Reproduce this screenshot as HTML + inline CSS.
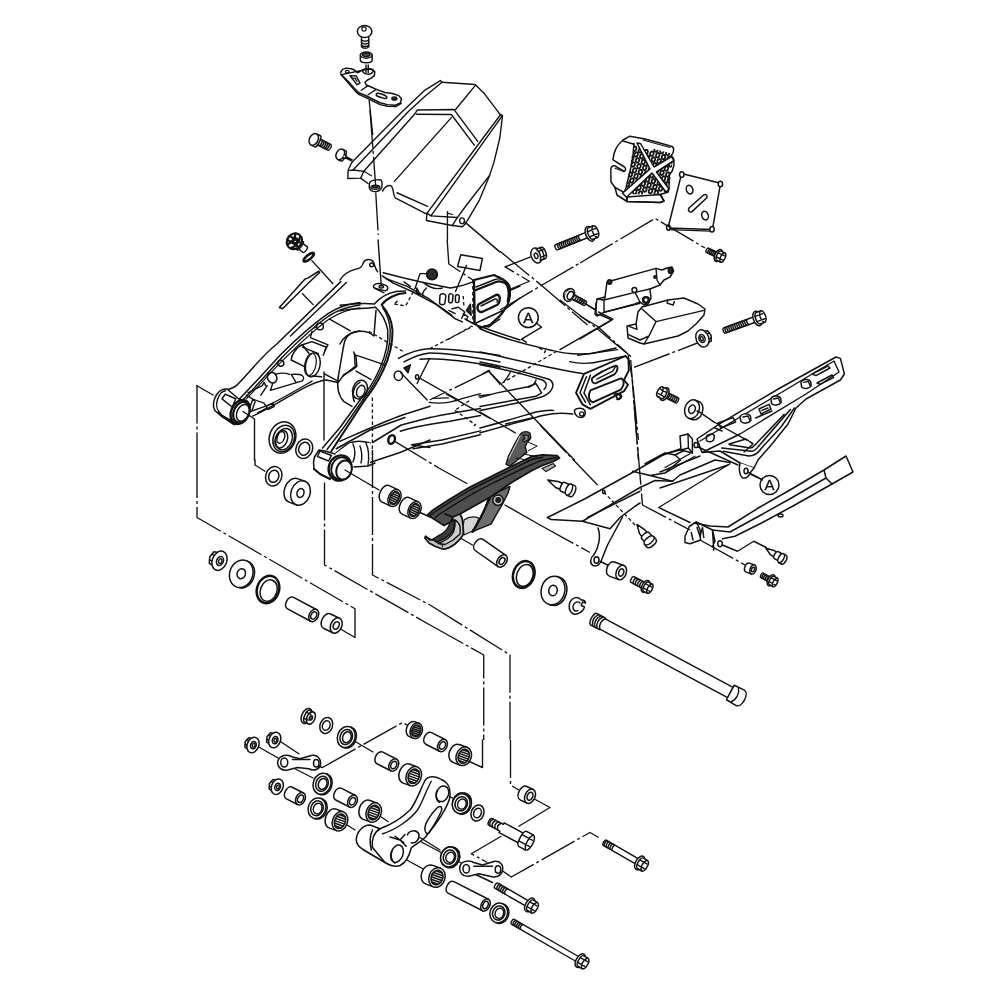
<!DOCTYPE html>
<html><head><meta charset="utf-8"><title>Swingarm</title>
<style>
html,body{margin:0;padding:0;background:#fff}
body{width:1000px;height:1001px;overflow:hidden}
svg{display:block;filter:grayscale(1)}
svg *{vector-effect:non-scaling-stroke}
.g{fill:none;stroke:#111;stroke-width:1.4;stroke-linecap:round;stroke-linejoin:round}
.w{fill:#fff}
.k{fill:#2a2a2a}
.m{fill:#555}
.dd{stroke-dasharray:38 3 3 3;stroke-linecap:butt;stroke-width:1.35}
.ds{stroke-dasharray:3.5 2.5;stroke-linecap:butt;stroke-width:1.3}
.th{stroke-width:1.2}
.hv{stroke-width:1.5}
text{font-family:"Liberation Sans",sans-serif;stroke:#111;stroke-width:0.35;fill:#111}
</style></head><body>
<svg width="1000" height="1001" viewBox="0 0 1000 1001">
<rect x="0" y="0" width="1000" height="1001" fill="#fff" stroke="none"/>
<g class="g" transform="translate(340,70) scale(0.17)">
<!-- left flange -->
<path d="M70,543 L353,257 L500,118 L590,62 L600,72 L500,154 L404,243 L77,588"/>
<path d="M70,543 L48,588 L46,638 L122,636 L140,596 L77,588 L50,592"/>
<path d="M140,596 L441,257 L455,235 L670,232 L810,420"/>
<path d="M450,260 L655,262 L790,442"/>
<path d="M122,636 L165,668"/>
<path class="th" d="M140,596 L185,622"/>
<!-- top face -->
<path d="M600,72 L795,85 L850,140 L945,265"/>
<path d="M795,92 L680,232"/>
<path d="M655,280 L320,655"/>
<!-- right flange -->
<path d="M945,262 L512,842 L508,885 L660,915 L690,868 L740,800 L880,620"/>
<path d="M955,268 L535,858 L690,868"/>
<path d="M512,842 L535,858"/>
<path d="M945,262 L956,268 L940,400 L905,545 L880,620 L820,765 L750,885 L735,905"/>
<path d="M660,915 L720,922 L738,905"/>
<ellipse cx="718" cy="887" rx="14" ry="17"/>
<!-- bottom edge -->
<path d="M250,712 C262,690 285,672 300,682 C318,695 312,740 325,752 L510,848"/>
<path d="M335,722 L515,802"/>
<!-- washer at left bottom -->
<path class="w" d="M172,678 C172,660 185,650 200,648 L235,645 C248,648 250,665 246,690 C240,712 215,718 195,714 C178,710 170,698 172,678 Z"/>
<ellipse cx="208" cy="690" rx="26" ry="12" class="w"/>
<ellipse cx="208" cy="686" rx="17" ry="7" class="m"/>
<!-- dashed at bottom right -->
<path class="dd" d="M632,830 L632,1000"/>
<path class="th" d="M632,842 L662,850"/>
<!-- holeleader -->
<path d="M735,895 L940,1070"/>
</g>
<g class="g" transform="translate(300,10) scale(0.125)">
<!-- bolt -->
<path d="M492,215 L492,295 C505,310 535,310 550,295 L550,215"/>
<path d="M492,240 C505,252 535,252 550,240 M492,262 C505,274 535,274 550,262 M492,283 C505,295 535,295 550,283" class="hv"/>
<ellipse cx="517" cy="172" rx="58" ry="48" class="w hv"/>
<circle cx="512" cy="152" r="17" class="th"/>
<!-- collar -->
<path class="w hv" d="M483,360 L483,400 C483,430 577,430 577,400 L577,360"/>
<ellipse cx="530" cy="360" rx="47" ry="25" class="w hv"/>
<ellipse cx="530" cy="358" rx="31" ry="14" class="m"/>
<path d="M528,440 L528,500 M546,440 L546,500"/>
<!-- bracket -->
<path class="hv" d="M325,500 L340,475 L370,465 L410,470 L435,480 L460,502 L500,480 M560,470 L580,475 L598,495 L595,525 L570,545 L540,560 L520,578 L530,600 L560,612 L610,635 L680,660 L740,668 L790,685 L812,710 L802,745 L760,762 L700,757 L640,742 L580,712 L520,682 L470,662 L440,632 L400,587 L360,547 L330,517 Z"/>
<path d="M500,480 C500,520 570,525 585,490 C580,470 530,462 500,480"/>
<path d="M325,512 L440,647 L470,675 L520,697 L640,757 L700,770 L770,772 L810,747"/>
<ellipse cx="378" cy="493" rx="15" ry="10"/>
<path class="hv" d="M400,525 L450,528 L480,585 L455,597 Z"/>
<path d="M415,545 L440,545 L455,570"/>
<path class="hv" d="M612,668 C625,660 680,680 692,692 C700,705 685,712 670,706 C650,700 615,690 610,682 Z"/>
<ellipse cx="755" cy="708" rx="20" ry="13" class="k"/>
<path d="M490,642 L545,605 M545,678 L610,635"/>
<path class="dd" d="M553,720 L582,1000"/>
</g>
<g class="g" transform="translate(300,110) scale(0.125)">
<g transform="translate(110,235) rotate(27)">
<path class="w hv" d="M0,-50 L35,-50 C55,-50 55,50 35,50 L0,50"/>
<ellipse cx="0" cy="0" rx="34" ry="50" class="w hv"/>
<path d="M45,-26 L140,-26 C155,-26 155,26 140,26 L45,26"/>
<path class="hv" d="M62,-26 C72,-10 72,10 62,26 M78,-26 C88,-10 88,10 78,26 M94,-26 C104,-10 104,10 94,26 M110,-26 C120,-10 120,10 110,26 M126,-26 C136,-10 136,10 126,26"/>
</g>
<g transform="translate(322,355) rotate(27)">
<path class="w hv" d="M0,-45 L28,-45 C48,-45 48,45 28,45 L0,45"/>
<ellipse cx="0" cy="0" rx="32" ry="45" class="w hv"/>
<path class="w" d="M30,-12 L50,-12 L50,12 L30,12"/>
<path d="M50,-5 L105,-5 M50,6 L100,6"/>
</g>
<!-- washer under guard -->
<path class="dd" d="M560,0 L605,600"/>
<path class="dd" d="M606,660 L626,1000"/>
</g>
<g class="g" transform="translate(600,125) scale(0.1)">
<path class="w hv" d="M300,112 L450,140 L600,180 L720,215 C745,230 742,270 712,308 L735,335 L740,400 L722,460 L692,500 L690,640 L680,672 L605,692 L640,760 L600,775 L270,765 L170,700 L150,625 L110,570 L108,450 C108,420 125,405 150,408 L240,465 C262,455 258,430 245,420 L130,348 C135,270 170,200 230,150 Z"/>
<clipPath id="tex"><path d="M340,185 L735,290 L690,650 L600,700 L250,690 Z"/></clipPath>
<g clip-path="url(#tex)">
<ellipse cx="346" cy="237" rx="17" ry="23" transform="rotate(20 346 237)" style="stroke-width:1.8"/>
<ellipse cx="317" cy="337" rx="17" ry="23" transform="rotate(20 317 337)" style="stroke-width:1.8"/>
<ellipse cx="404" cy="254" rx="17" ry="23" transform="rotate(20 404 254)" style="stroke-width:1.8"/>
<ellipse cx="361" cy="295" rx="17" ry="23" transform="rotate(20 361 295)" style="stroke-width:1.8"/>
<ellipse cx="375" cy="354" rx="17" ry="23" transform="rotate(20 375 354)" style="stroke-width:1.8"/>
<ellipse cx="332" cy="395" rx="17" ry="23" transform="rotate(20 332 395)" style="stroke-width:1.8"/>
<ellipse cx="346" cy="454" rx="17" ry="23" transform="rotate(20 346 454)" style="stroke-width:1.8"/>
<ellipse cx="303" cy="495" rx="17" ry="23" transform="rotate(20 303 495)" style="stroke-width:1.8"/>
<ellipse cx="318" cy="554" rx="17" ry="23" transform="rotate(20 318 554)" style="stroke-width:1.8"/>
<ellipse cx="275" cy="595" rx="17" ry="23" transform="rotate(20 275 595)" style="stroke-width:1.8"/>
<ellipse cx="289" cy="654" rx="17" ry="23" transform="rotate(20 289 654)" style="stroke-width:1.8"/>
<ellipse cx="461" cy="270" rx="17" ry="23" transform="rotate(20 461 270)" style="stroke-width:1.8"/>
<ellipse cx="418" cy="312" rx="17" ry="23" transform="rotate(20 418 312)" style="stroke-width:1.8"/>
<ellipse cx="433" cy="370" rx="17" ry="23" transform="rotate(20 433 370)" style="stroke-width:1.8"/>
<ellipse cx="390" cy="412" rx="17" ry="23" transform="rotate(20 390 412)" style="stroke-width:1.8"/>
<ellipse cx="404" cy="470" rx="17" ry="23" transform="rotate(20 404 470)" style="stroke-width:1.8"/>
<ellipse cx="361" cy="512" rx="17" ry="23" transform="rotate(20 361 512)" style="stroke-width:1.8"/>
<ellipse cx="375" cy="570" rx="17" ry="23" transform="rotate(20 375 570)" style="stroke-width:1.8"/>
<ellipse cx="332" cy="612" rx="17" ry="23" transform="rotate(20 332 612)" style="stroke-width:1.8"/>
<ellipse cx="347" cy="670" rx="17" ry="23" transform="rotate(20 347 670)" style="stroke-width:1.8"/>
<ellipse cx="519" cy="287" rx="17" ry="23" transform="rotate(20 519 287)" style="stroke-width:1.8"/>
<ellipse cx="476" cy="328" rx="17" ry="23" transform="rotate(20 476 328)" style="stroke-width:1.8"/>
<ellipse cx="490" cy="387" rx="17" ry="23" transform="rotate(20 490 387)" style="stroke-width:1.8"/>
<ellipse cx="447" cy="428" rx="17" ry="23" transform="rotate(20 447 428)" style="stroke-width:1.8"/>
<ellipse cx="462" cy="487" rx="17" ry="23" transform="rotate(20 462 487)" style="stroke-width:1.8"/>
<ellipse cx="419" cy="528" rx="17" ry="23" transform="rotate(20 419 528)" style="stroke-width:1.8"/>
<ellipse cx="433" cy="587" rx="17" ry="23" transform="rotate(20 433 587)" style="stroke-width:1.8"/>
<ellipse cx="390" cy="628" rx="17" ry="23" transform="rotate(20 390 628)" style="stroke-width:1.8"/>
<ellipse cx="404" cy="687" rx="17" ry="23" transform="rotate(20 404 687)" style="stroke-width:1.8"/>
<ellipse cx="562" cy="245" rx="17" ry="23" transform="rotate(20 562 245)" style="stroke-width:1.8"/>
<ellipse cx="577" cy="303" rx="17" ry="23" transform="rotate(20 577 303)" style="stroke-width:1.8"/>
<ellipse cx="534" cy="345" rx="17" ry="23" transform="rotate(20 534 345)" style="stroke-width:1.8"/>
<ellipse cx="548" cy="403" rx="17" ry="23" transform="rotate(20 548 403)" style="stroke-width:1.8"/>
<ellipse cx="505" cy="445" rx="17" ry="23" transform="rotate(20 505 445)" style="stroke-width:1.8"/>
<ellipse cx="520" cy="503" rx="17" ry="23" transform="rotate(20 520 503)" style="stroke-width:1.8"/>
<ellipse cx="476" cy="545" rx="17" ry="23" transform="rotate(20 476 545)" style="stroke-width:1.8"/>
<ellipse cx="491" cy="603" rx="17" ry="23" transform="rotate(20 491 603)" style="stroke-width:1.8"/>
<ellipse cx="448" cy="645" rx="17" ry="23" transform="rotate(20 448 645)" style="stroke-width:1.8"/>
<ellipse cx="620" cy="262" rx="17" ry="23" transform="rotate(20 620 262)" style="stroke-width:1.8"/>
<ellipse cx="635" cy="320" rx="17" ry="23" transform="rotate(20 635 320)" style="stroke-width:1.8"/>
<ellipse cx="591" cy="362" rx="17" ry="23" transform="rotate(20 591 362)" style="stroke-width:1.8"/>
<ellipse cx="606" cy="420" rx="17" ry="23" transform="rotate(20 606 420)" style="stroke-width:1.8"/>
<ellipse cx="563" cy="462" rx="17" ry="23" transform="rotate(20 563 462)" style="stroke-width:1.8"/>
<ellipse cx="577" cy="520" rx="17" ry="23" transform="rotate(20 577 520)" style="stroke-width:1.8"/>
<ellipse cx="534" cy="562" rx="17" ry="23" transform="rotate(20 534 562)" style="stroke-width:1.8"/>
<ellipse cx="549" cy="620" rx="17" ry="23" transform="rotate(20 549 620)" style="stroke-width:1.8"/>
<ellipse cx="505" cy="661" rx="17" ry="23" transform="rotate(20 505 661)" style="stroke-width:1.8"/>
<ellipse cx="678" cy="278" rx="17" ry="23" transform="rotate(20 678 278)" style="stroke-width:1.8"/>
<ellipse cx="692" cy="336" rx="17" ry="23" transform="rotate(20 692 336)" style="stroke-width:1.8"/>
<ellipse cx="649" cy="378" rx="17" ry="23" transform="rotate(20 649 378)" style="stroke-width:1.8"/>
<ellipse cx="664" cy="436" rx="17" ry="23" transform="rotate(20 664 436)" style="stroke-width:1.8"/>
<ellipse cx="620" cy="478" rx="17" ry="23" transform="rotate(20 620 478)" style="stroke-width:1.8"/>
<ellipse cx="635" cy="536" rx="17" ry="23" transform="rotate(20 635 536)" style="stroke-width:1.8"/>
<ellipse cx="592" cy="578" rx="17" ry="23" transform="rotate(20 592 578)" style="stroke-width:1.8"/>
<ellipse cx="606" cy="636" rx="17" ry="23" transform="rotate(20 606 636)" style="stroke-width:1.8"/>
<ellipse cx="563" cy="678" rx="17" ry="23" transform="rotate(20 563 678)" style="stroke-width:1.8"/>
<ellipse cx="707" cy="395" rx="17" ry="23" transform="rotate(20 707 395)" style="stroke-width:1.8"/>
<ellipse cx="678" cy="495" rx="17" ry="23" transform="rotate(20 678 495)" style="stroke-width:1.8"/>
<ellipse cx="693" cy="553" rx="17" ry="23" transform="rotate(20 693 553)" style="stroke-width:1.8"/>
<ellipse cx="649" cy="595" rx="17" ry="23" transform="rotate(20 649 595)" style="stroke-width:1.8"/>
<ellipse cx="664" cy="653" rx="17" ry="23" transform="rotate(20 664 653)" style="stroke-width:1.8"/>
</g>
<path class="hv" d="M340,185 L330,300 L310,420 L262,620 L240,685"/>
<path class="hv" d="M230,160 L340,192"/>
<path class="th" d="M150,432 L232,462"/>
<path class="hv" d="M150,625 L235,672 L270,720 L270,765"/>
<path class="w hv" d="M370,180 L405,185 L540,420 L715,315 L740,355 L565,470 L690,640 L660,672 L520,480 L265,722 L225,682 L500,440 Z"/>
<path class="w hv" d="M270,720 L600,695 L640,760 L600,775 L270,765 Z" style="fill:none"/>
<path class="th" d="M430,150 L700,225"/>
</g>
<g class="g" transform="translate(580,120) scale(0.2)">
<path class="hv" d="M508,268 L703,316 L662,548 L440,540 Z"/>
<path class="th" d="M445,548 L655,556"/>
<ellipse cx="509" cy="273" rx="11" ry="14" class="w hv"/>
<ellipse cx="702" cy="320" rx="11" ry="14" class="w hv"/>
<ellipse cx="660" cy="546" rx="11" ry="14" class="w hv"/>
<ellipse cx="442" cy="538" rx="9" ry="13" class="w hv"/>
<ellipse cx="548" cy="348" rx="16" ry="22" transform="rotate(-20 548 348)" class="hv"/>
<ellipse cx="625" cy="478" rx="16" ry="22" transform="rotate(-20 625 478)" class="hv"/>
<path class="hv" d="M545,440 L618,375 C630,368 640,378 633,390 L560,458 C548,465 538,452 545,440 Z"/>
<!-- leader line -->
<path class="dd" d="M0,715 L375,492 L625,640"/>
<!-- small flange bolt -->
<g transform="translate(702,682) rotate(205)"><path d="M16,-12 L72,-12 C79.2,-12 79.2,12 72,12 L16,12"/><path class="hv" d="M26.5,-12 C32.5,-6 32.5,6 26.5,12 M35.5,-12 C41.5,-6 41.5,6 35.5,12 M44.5,-12 C50.5,-6 50.5,6 44.5,12 M53.5,-12 C59.5,-6 59.5,6 53.5,12 M62.5,-12 C68.5,-6 68.5,6 62.5,12 "/><ellipse class="w hv" cx="11.2" cy="0" rx="17.6" ry="32"/><path class="w hv" d="M8,-25.6 L-11.2,-25.6 C-28.8,-25.6 -28.8,25.6 -11.2,25.6 L8,25.6 C22.4,25.6 22.4,-25.6 8,-25.6 Z"/><path d="M-17.6,-11.5 L17.6,-11.5 M-17.6,11.5 L17.6,11.5 M-11.2,-25.6 C1.6,-15.4 1.6,15.4 -11.2,25.6"/></g>
</g>
<g class="g" transform="translate(580,240) scale(0.2)">
<!-- leader lines -->
<path class="dd" d="M0,380 L85,430 L240,570 L262,700 L292,1000"/>
<path class="dd" d="M270,637 L600,510"/>
<path d="M80,365 L160,400 L0,495"/>
<path class="dd" d="M0,300 L75,350"/>
<!-- adjuster bracket -->
<path class="w hv" d="M135,210 L380,142 L410,150 L435,140 L460,135 L468,155 L450,185 L420,200 L400,225 L350,245 L355,290 L340,320 L320,325 L300,310 L275,320 L120,362 L85,380 L75,370 L85,295 L125,285 Z"/>
<path d="M125,285 L120,300 L275,262 L350,245 M85,295 L120,300 L120,360 M380,142 L385,200 L400,225 M275,262 L300,310"/>
<circle cx="148" cy="210" r="11" class="k"/>
<circle cx="375" cy="185" r="6" class="k"/>
<ellipse cx="452" cy="152" rx="11" ry="14" class="k"/>
<circle cx="272" cy="250" r="12" class="w hv"/>
<circle cx="330" cy="300" r="17" class="k"/>
<circle cx="330" cy="300" r="7" class="w" stroke="none"/>
<!-- guide block -->
<path class="w hv" d="M235,430 L280,420 L290,360 L310,335 L440,300 L520,290 L590,320 L625,345 L620,375 L580,420 L540,455 L490,480 L320,520 L300,515 L240,490 Z"/>
<path d="M310,345 L380,408 L620,352 M380,408 L345,480 L320,520 M245,432 L285,447 L280,420 M240,472 L300,500 L345,480 M440,300 L435,315 L465,326 L472,308"/>
<!-- flange nut + long bolt -->
<g transform="translate(612,492) rotate(160)"><path class="w hv" d="M-4.4,-34.3 L-37.4,-27.3 L-46.2,0 L-37.4,27.3 L-4.4,34.3 Z"/><path d="M-41.8,-13.2 L-4.4,-15.8 M-41.8,13.2 L-4.4,15.8"/><ellipse class="w hv" cx="0" cy="0" rx="31.7" ry="44"/><ellipse class="hv" cx="2.2" cy="0" rx="15" ry="20.2"/><ellipse cx="3.5" cy="0" rx="7" ry="10.6"/></g>
<g transform="translate(900,388) rotate(160)"><path d="M19,-14 L189,-14 C197.4,-14 197.4,14 189,14 L19,14"/><path class="hv" d="M64.2,-14 C71.2,-7 71.2,7 64.2,14 M74.8,-14 C81.8,-7 81.8,7 74.8,14 M85.2,-14 C92.2,-7 92.2,7 85.2,14 M95.8,-14 C102.8,-7 102.8,7 95.8,14 M106.2,-14 C113.2,-7 113.2,7 106.2,14 M116.8,-14 C123.8,-7 123.8,7 116.8,14 M127.2,-14 C134.2,-7 134.2,7 127.2,14 M137.8,-14 C144.8,-7 144.8,7 137.8,14 M148.2,-14 C155.2,-7 155.2,7 148.2,14 M158.8,-14 C165.8,-7 165.8,7 158.8,14 M169.2,-14 C176.2,-7 176.2,7 169.2,14 M179.8,-14 C186.8,-7 186.8,7 179.8,14 "/><ellipse class="w hv" cx="13.3" cy="0" rx="20.9" ry="38"/><path class="w hv" d="M9.5,-30.4 L-13.3,-30.4 C-34.2,-30.4 -34.2,30.4 -13.3,30.4 L9.5,30.4 C26.6,30.4 26.6,-30.4 9.5,-30.4 Z"/><path d="M-20.9,-13.7 L20.9,-13.7 M-20.9,13.7 L20.9,13.7 M-13.3,-30.4 C1.9,-18.2 1.9,18.2 -13.3,30.4"/></g>
<!-- lower bolt + washer -->
<g transform="translate(412,765) rotate(27)"><path d="M17,-14 L82,-14 C90.4,-14 90.4,14 82,14 L17,14"/><path class="hv" d="M32.2,-14 C39.2,-7 39.2,7 32.2,14 M42.8,-14 C49.8,-7 49.8,7 42.8,14 M53.2,-14 C60.2,-7 60.2,7 53.2,14 M63.8,-14 C70.8,-7 70.8,7 63.8,14 M74.2,-14 C81.2,-7 81.2,7 74.2,14 "/><ellipse class="w hv" cx="11.9" cy="0" rx="18.7" ry="34"/><path class="w hv" d="M8.5,-27.2 L-11.9,-27.2 C-30.6,-27.2 -30.6,27.2 -11.9,27.2 L8.5,27.2 C23.8,27.2 23.8,-27.2 8.5,-27.2 Z"/><path d="M-18.7,-12.2 L18.7,-12.2 M-18.7,12.2 L18.7,12.2 M-11.9,-27.2 C1.7,-16.3 1.7,16.3 -11.9,27.2"/></g>
<g transform="translate(560,846) rotate(20)"><path class="w hv" d="M0,-48 L18,-48 C65.9,-48 65.9,48 18,48 L0,48"/><ellipse class="w hv" cx="0" cy="0" rx="36" ry="48"/><ellipse class="w hv" cx="0" cy="0" rx="16.2" ry="21.6"/></g>
<path d="M585,855 L600,862 M600,862 L672,912" />
</g>
<g class="g" transform="translate(200,280) scale(0.16)">
<!-- outer top edge -->
<path class="hv" d="M160,688 C190,680 210,676 225,662 C300,590 380,480 480,400 L880,10"/>
<path d="M565,350 L915,15"/>
<!-- inner rim bold arch -->
<path class="hv" d="M230,760 C300,690 400,580 500,470 C600,370 700,280 800,210 C860,170 930,148 1000,140"/>
<path class="hv" d="M242,776 C320,700 410,595 512,484 C610,385 705,295 805,225 C865,188 930,165 1000,157"/>
<path class="th" d="M290,742 C350,680 430,590 525,495 C620,400 715,310 810,242 C870,205 930,182 1000,174"/>
<!-- lower edge -->
<path class="hv" d="M330,850 C420,810 520,745 640,680 C700,648 740,628 790,625 L860,640"/>
<path d="M300,828 L420,785 C500,750 600,690 700,632"/>
<!-- pivot left -->

<!-- bosses -->
<circle cx="750" cy="290" r="21" class="hv"/>
<path d="M735,275 L715,300 M700,320 L690,360 L800,405 L780,440"/>
<circle cx="505" cy="520" r="19" class="hv"/>
<path class="hv" d="M425,590 C440,570 470,575 478,600 C488,630 465,650 445,642 C425,635 415,610 425,590 Z"/>
<path d="M470,590 C500,580 540,582 560,590 M455,645 L440,690 L640,630 C660,600 640,585 570,590 L600,640"/>
<!-- big cylinder -->
<ellipse cx="705" cy="530" rx="45" ry="76" transform="rotate(12 705 530)" class="hv"/>
<ellipse cx="690" cy="528" rx="35" ry="70" transform="rotate(12 690 528)" class="th"/>
<path class="hv" d="M680,458 L640,405 L700,385 L790,420 L770,470 M640,405 C600,420 570,470 570,500 L660,545 M700,600 L760,605"/>
<path d="M640,420 L740,460"/>
<!-- small features near pivot -->
<path d="M290,720 L330,745 L310,800 M330,745 L400,770 L420,800 L360,830 M345,760 L325,815 M410,790 L455,770 L465,790 L425,810 M300,705 L390,660 L400,640 L410,660 M380,720 L420,660"/>
<!-- right region: inner wall -->
<path class="hv" d="M1000,318 C950,320 920,340 905,380 C890,440 880,520 865,600 C855,660 860,720 900,760 L950,790"/>
<path d="M810,245 L940,318"/>
<path class="hv" d="M960,450 L975,480 L980,540 L940,570 L900,590 L865,640 M1000,640 C960,660 945,720 965,760"/>
<!-- strip top-left -->

<!-- leader lines -->
<path d="M775,575 L775,1000 M775,585 L862,632"/>
</g>
<g class="g" transform="translate(180,360) scale(0.1)">
<path class="w hv" d="M470,290 C420,285 370,320 345,390 C325,450 335,500 370,525 L420,565 L545,645 L640,560 L600,400 Z"/>
<path d="M455,308 C420,312 392,342 375,395 C360,440 366,490 388,512"/>
<path class="hv" d="M420,388 L452,342 L558,388 L522,470 Z"/>
<path style="stroke-width:2.2" d="M385,520 L420,562 L540,642"/>
<path d="M400,540 L520,612"/>
<ellipse cx="602" cy="520" rx="90" ry="125" transform="rotate(25 602 520)" class="w" style="stroke-width:2.4"/>
<ellipse cx="612" cy="522" rx="74" ry="108" transform="rotate(25 612 522)" class="w" style="stroke-width:2.2"/>
<ellipse cx="628" cy="528" rx="58" ry="88" transform="rotate(25 628 528)" class="w hv"/>
<path d="M630,515 L745,590 L745,1000"/>
<path d="M165,255 L330,350"/>
<path class="dd" d="M170,255 L170,1000"/>
</g>
<g class="g" transform="translate(340,240) scale(0.16)">
<!-- top outline -->
<path class="hv" d="M0,250 C20,215 50,195 100,182 C130,178 140,165 148,138 C160,118 195,115 210,140 C218,160 222,185 235,198"/>
<circle cx="198" cy="155" r="12" class="hv"/>
<path class="hv" d="M270,205 L400,238 L520,265 L690,300 C750,290 800,275 830,262 L960,225 L1000,235"/>
<path class="hv" d="M265,225 L330,268 L450,322 L600,402 L720,492 L765,512"/>
<path d="M285,240 L420,290 L560,370 L700,470"/>
<path d="M520,265 C560,300 600,310 640,300 M540,300 C520,320 510,340 520,350 M400,262 L440,290 M480,300 L500,340 L478,332 Z"/>
<!-- tab -->
<path class="hv" d="M215,280 C225,268 260,270 290,285 C305,295 300,312 285,318 L225,305 C205,298 205,288 215,280 Z"/>
<path d="M215,300 L275,330"/>
<ellipse cx="258" cy="292" rx="14" ry="8"/>
<path d="M238,0 L258,288"/>
<!-- bold arch -->
<path class="hv" d="M0,408 C80,398 160,395 215,400 C240,370 290,335 350,322 L410,318"/>
<path class="hv" d="M0,442 C80,432 150,428 222,420 C255,450 285,500 298,560 C305,640 285,720 250,800 C220,870 170,950 125,1000"/>
<path style="stroke-width:2" d="M410,332 C350,335 290,365 260,405 C300,450 325,510 328,565 C330,650 310,730 270,815 C240,880 195,950 155,1000"/>
<path d="M268,425 C298,465 310,512 314,565 C316,650 297,728 258,811 C228,877 183,950 142,1000"/>
<!-- right arm top edges -->
<path class="hv" d="M365,740 C420,710 480,685 550,680 C650,678 800,690 1000,722"/>
<path class="hv" d="M400,762 C440,740 500,712 560,706 C680,705 850,735 1000,762"/>
<path d="M500,745 C600,735 800,760 1000,795"/>
<!-- hidden dashed -->
<path class="ds" d="M180,570 L400,700 M560,680 L830,540 M340,400 L410,412 L470,300 M830,250 L830,520 M345,395 L360,380 M770,350 L775,420"/>
<!-- dark nut -->
<circle cx="575" cy="215" r="34" class="k"/>
<path d="M470,300 L500,210 L545,210"/>
<!-- label box -->
<path class="hv" d="M755,92 L890,115 L875,190 L735,165 Z"/>
<path d="M790,160 L722,322"/>
<path class="dd" d="M670,0 L680,150 L830,250"/>
<!-- threaded piece -->
<path class="hv" d="M625,345 C630,330 660,335 662,350 L655,395 C650,410 620,405 622,390 Z M680,345 C685,332 705,335 707,348 L702,385 C698,398 678,394 679,382 Z M722,348 C727,338 745,341 746,352 L742,385 C738,395 720,392 721,382 Z"/>
<path d="M700,430 L740,420 L780,450 L760,490 M680,440 L720,460 M770,460 L800,480 L790,500"/>
<path class="k" d="M790,440 L815,400 L820,470 Z"/>
<!-- adjuster housing right -->
<!-- inner boss lower-left -->
<path class="hv" d="M0,650 C20,610 60,580 110,572 C150,568 190,580 212,600 L225,440"/>
<path d="M90,710 L95,790 L20,850 M100,720 L285,782 M100,820 L195,872"/>
<ellipse cx="125" cy="935" rx="45" ry="60" transform="rotate(20 125 935)" class="hv"/>
<ellipse cx="130" cy="945" rx="25" ry="38" transform="rotate(20 130 945)"/>
<!-- holes on right arm -->
<ellipse cx="365" cy="848" rx="26" ry="30" class="hv"/>
<path class="k" d="M400,800 L440,780 L425,830 Z"/>
<ellipse cx="482" cy="856" rx="10" ry="14" class="hv"/>
<path d="M380,830 L545,1000 M490,858 L740,1000"/>
<path class="dd" d="M560,740 L480,900 M930,820 L560,1000"/>
<path d="M930,820 L1000,900"/>
</g>
<g class="g" transform="translate(420,240) scale(0.1)">
<path class="w" style="stroke-width:2" d="M540,400 L740,350 L800,380 C850,400 890,440 900,480 L900,560 C895,620 850,700 800,760 L700,850 L600,880 L545,830 Z"/>
<path style="stroke-width:2.2" d="M540,400 L545,830"/>
<path style="stroke-width:2.4" d="M560,500 L760,420 C800,405 850,420 870,450 C890,490 890,560 878,610"/>
<path d="M560,470 L750,395 C800,380 850,400 880,440"/>
<path style="stroke-width:2.4" d="M590,640 L760,550 C790,540 805,570 795,610 C790,635 780,645 770,650 L620,720 C590,725 570,700 575,670 C578,655 582,645 590,640 Z"/>
<path d="M610,660 L750,590 C770,585 778,600 770,620"/>
<path class="hv" d="M560,830 L840,700 L1000,580 M600,880 L700,850 L830,720 M910,500 L1000,460"/>
<path d="M640,860 L690,870 L740,830 L800,790"/>
<path class="ds" d="M520,860 L270,1000"/>
<path class="hv" d="M450,790 L540,840 L700,900 L1000,1000"/>
</g>
<g class="g" transform="translate(480,300) scale(0.16)">
<circle cx="302" cy="110" r="62" class="hv"/>
<text x="302" y="143" font-size="94" text-anchor="middle">A</text>
<path d="M355,145 L385,170 L260,245 L290,265"/>
<path class="dd" d="M500,0 L720,170 L940,350 L990,1000"/>
<path d="M500,310 L830,120 L740,75 M780,75 L1000,20"/>
<path class="hv" d="M725,20 L725,85 L740,95"/>
<!-- arm top edge -->
<path class="hv" d="M0,180 C100,225 250,270 450,315 C520,335 600,342 700,335 L850,300"/>
<path d="M610,345 L860,310"/>
<path class="hv" d="M0,325 C150,355 350,410 640,460"/>
<path class="hv" d="M0,388 C150,415 300,455 430,495 C460,510 465,540 440,570 C420,595 390,608 350,615 L250,640 L0,690"/>
<path d="M0,405 C150,432 280,465 390,500 C420,515 420,540 400,560"/>
<path class="hv" d="M0,610 L100,582 L300,542 L350,522 L385,580 L350,602 L0,665"/>
<path d="M20,460 L60,440 M150,510 C170,490 180,470 190,450 M300,545 C330,540 345,520 350,500"/>
<path class="ds" d="M370,300 L410,320 L400,332 M480,320 L120,530"/>
<!-- lower edges -->
<path class="hv" d="M0,830 C150,790 300,745 400,720 C450,708 520,705 580,712"/>
<path class="hv" d="M0,800 C150,760 280,720 350,700 C400,690 430,688 460,690"/>
<path d="M160,775 L330,735"/>
<!-- end cap -->
<path d="M560,385 C620,400 700,398 770,380 L910,350"/>
<path style="stroke-width:1.9" d="M650,462 L910,350 L928,372 L930,440 L900,500 L925,530 L900,570 L690,680 L640,652 L600,580 Z"/>
<path class="hv" d="M665,480 L625,580 L660,640 M690,470 L650,580 L690,655"/>
<path style="stroke-width:1.9" d="M700,490 C720,470 800,425 850,410 C865,415 862,445 840,465 L725,520 C705,525 695,505 700,490 Z"/>
<path d="M730,495 L830,445 L845,420"/>
<path style="stroke-width:1.9" d="M690,565 L880,490 C905,500 905,530 880,560 L705,640 C680,630 672,595 690,565 Z"/>
<path class="hv" d="M590,690 C600,675 640,670 655,690 C665,715 650,735 630,735 C610,735 590,715 590,690 Z"/>
<circle cx="636" cy="712" r="13"/>
<path class="hv" d="M840,590 C850,580 880,582 885,600 C885,618 870,625 855,620"/>
<circle cx="865" cy="603" r="12"/>
<!-- leader lines -->
<path d="M50,440 L590,1000 M0,700 L220,830"/>
</g>
<g class="g" transform="translate(540,400) scale(0.25)">
<!-- sheet -->
<path class="hv" d="M30,470 L180,395 L370,290 L440,250 L500,215 L560,200"/>
<path class="hv" d="M30,470 L45,478 L170,485 L280,515 L320,470 L380,425 L400,412"/>
<path class="hv" d="M170,485 L400,350 L460,322 L530,325 L560,300 L700,240 L760,250"/>
<path d="M475,430 L760,255 M475,430 L600,490 M190,470 L400,365"/>
<path class="hv" d="M420,255 L500,212 L540,220 L562,240 L500,292 L440,302 L370,285 M440,302 L530,325"/>
<path d="M500,292 L620,225 M540,220 L600,190 M500,270 L600,215"/>
<!-- hanging tab -->
<path class="hv" d="M232,512 C245,545 235,590 215,620 C200,632 198,652 212,662 C228,668 245,655 248,635 L270,580 L330,468"/>
<ellipse cx="226" cy="640" rx="10" ry="13" class="hv"/>
<ellipse cx="255" cy="368" rx="5" ry="7"/>
<!-- leader lines -->
<path class="dd" d="M0,100 L230,340"/>
<path class="ds" d="M255,368 L380,500"/>
<path class="dd" d="M375,0 L410,420 L600,520"/>
<path class="dd" d="M0,500 L200,610"/>
<path d="M240,645 L280,665"/>
<path class="dd" d="M640,560 L820,660"/>
<path d="M730,580 L790,605 L855,565 L905,590"/>
<!-- lower rail right -->
<path class="hv" d="M616,492 L680,504 L752,508 L880,428 L1000,360 L1136,280 L1224,224 L1252,288 L1168,336 L1144,312 L1136,280"/>
<path class="hv" d="M1144,312 L1000,395 L880,462 L760,528 L690,520"/>
<path class="hv" d="M1168,336 L1010,425 L890,490 L780,545 L730,555"/>
<ellipse cx="962" cy="462" rx="10" ry="6"/>
<!-- end bracket -->
<path class="hv" d="M580,545 L598,505 L625,488 L640,518 L642,560 L600,575 L580,570 Z"/>
<path class="hv" d="M625,488 L690,520 L700,565 L690,585 M605,530 L612,560 M628,510 L640,545 L650,510 L655,550 M690,520 L695,600"/>
<ellipse cx="720" cy="575" rx="9" ry="12" class="hv"/>
<!-- upper rail end block & washer handled elsewhere -->
<!-- push rivets -->
<g transform="translate(100,350) rotate(22)">
<path class="w hv" d="M-75,-2 L-35,-12 L-10,-12 L-10,14 L-35,14 Z"/>
<path class="w hv" d="M-10,-18 C-20,-18 -20,20 -10,20 L12,20 L12,-18 Z"/>
<g transform="translate(18,2) rotate(0)"><path class="w hv" d="M0,-24 L14,-24 C30,-24 30,24 14,24 L0,24"/><ellipse class="w hv" cx="0" cy="0" rx="12" ry="24"/></g>
</g>
<g transform="translate(425,545) rotate(50)">
<path class="w hv" d="M-60,-2 L-25,-12 L-5,-12 L-5,14 L-25,14 Z"/>
<path class="w hv" d="M-5,-18 C-15,-18 -15,20 -5,20 L15,20 L15,-18 Z"/>
<g transform="translate(20,2) rotate(0)"><path class="w hv" d="M0,-24 L14,-24 C30,-24 30,24 14,24 L0,24"/><ellipse class="w hv" cx="0" cy="0" rx="12" ry="24"/></g>
</g>
<g transform="translate(950,622) rotate(30)">
<path class="w hv" d="M-55,-2 L-25,-10 L-5,-10 L-5,12 L-25,12 Z"/>
<path class="w hv" d="M-5,-15 C-15,-15 -15,17 -5,17 L12,17 L12,-15 Z"/>
<g transform="translate(18,2) rotate(0)"><path class="w hv" d="M0,-20 L12,-20 C25.3,-20 25.3,20 12,20 L0,20"/><ellipse class="w hv" cx="0" cy="0" rx="10" ry="20"/></g>
</g>
<!-- collar + bolt -->
<g transform="translate(325,690) rotate(200)">
<g transform="translate(0,0) rotate(0)"><path class="w hv" d="M0,-30 L40,-30 C66.6,-30 66.6,30 40,30 L0,30"/><ellipse class="w hv" cx="0" cy="0" rx="20" ry="30"/><ellipse class="w hv" cx="0" cy="0" rx="10" ry="15"/></g>
</g>
<g transform="translate(430,750) rotate(208)"><path d="M13,-13 L68,-13 C75.8,-13 75.8,13 68,13 L13,13"/><path class="hv" d="M27.9,-13 C34.4,-6.5 34.4,6.5 27.9,13 M37.6,-13 C44.1,-6.5 44.1,6.5 37.6,13 M47.4,-13 C53.9,-6.5 53.9,6.5 47.4,13 M57.1,-13 C63.6,-6.5 63.6,6.5 57.1,13 "/><ellipse class="w hv" cx="9.1" cy="0" rx="14.3" ry="26"/><path class="w hv" d="M6.5,-20.8 L-9.1,-20.8 C-23.4,-20.8 -23.4,20.8 -9.1,20.8 L6.5,20.8 C18.2,20.8 18.2,-20.8 6.5,-20.8 Z"/><path d="M-14.3,-9.4 L14.3,-9.4 M-14.3,9.4 L14.3,9.4 M-9.1,-20.8 C1.3,-12.5 1.3,12.5 -9.1,20.8"/></g>
<g transform="translate(852,678) rotate(200)">
<g transform="translate(0,0) rotate(0)"><path class="w hv" d="M0,-19 L22,-19 C38,-19 38,19 22,19 L0,19"/><ellipse class="w hv" cx="0" cy="0" rx="12" ry="19"/><ellipse class="w hv" cx="0" cy="0" rx="6" ry="9.5"/></g>
</g>
<g transform="translate(932,725) rotate(208)"><path d="M12,-10 L50,-10 C56,-10 56,10 50,10 L12,10"/><path class="hv" d="M21.8,-10 C26.8,-5 26.8,5 21.8,10 M29.2,-10 C34.2,-5 34.2,5 29.2,10 M36.8,-10 C41.8,-5 41.8,5 36.8,10 M44.2,-10 C49.2,-5 49.2,5 44.2,10 "/><ellipse class="w hv" cx="8.4" cy="0" rx="13.2" ry="24"/><path class="w hv" d="M6,-19.2 L-8.4,-19.2 C-21.6,-19.2 -21.6,19.2 -8.4,19.2 L6,19.2 C16.8,19.2 16.8,-19.2 6,-19.2 Z"/><path d="M-13.2,-8.6 L13.2,-8.6 M-13.2,8.6 L13.2,8.6 M-8.4,-19.2 C1.2,-11.5 1.2,11.5 -8.4,19.2"/></g>
<!-- big washer -->
<g transform="translate(52,762) rotate(15)"><path class="w hv" d="M0,-58 L8,-58 C70.5,-58 70.5,58 8,58 L0,58"/><ellipse class="w hv" cx="0" cy="0" rx="47" ry="58"/><ellipse class="w hv" cx="0" cy="0" rx="16.9" ry="20.9"/></g>
<!-- circlip -->
<path class="hv" d="M165,800 C150,782 125,790 118,815 C112,845 130,862 150,855 C165,850 175,838 178,828 L165,822 L170,808 L182,812 C182,805 175,798 165,800 Z"/>
<path d="M160,812 C150,802 135,810 132,825 C130,840 142,848 152,842"/>
<!-- axle -->
<g transform="translate(215,877) rotate(28.2)">
<path class="w hv" d="M0,-26 L40,-26 L40,-23 L620,-23 L620,23 L40,23 L40,26 L0,26 C-14,26 -14,-26 0,-26 Z"/>
<path class="hv" d="M8,-24 C-4,-10 -4,10 8,24 M18,-24 C6,-10 6,10 18,24 M28,-24 C16,-10 16,10 28,24 M40,-24 C28,-10 28,10 40,24"/>
<path class="w hv" d="M620,-33 L665,-35 C690,-33 690,33 665,35 L620,33 Z"/>
<path d="M640,-31 C655,-15 655,15 640,31"/>
</g>
<!-- seal ring -->
<g transform="translate(-65,698) rotate(20)">
<ellipse cx="0" cy="0" rx="42" ry="55" class="w" style="stroke-width:2.4"/>
<ellipse cx="5" cy="2" rx="32" ry="45" class="hv"/>
<path d="M-38,22 C-28,52 0,62 22,48"/>
</g>
<!-- circle A -->
<circle cx="918" cy="340" r="38" class="w hv"/>
<text x="918" y="361" font-size="60" text-anchor="middle">A</text>
<path d="M828,290 L888,318"/>
</g>
<g class="g" transform="translate(660,340) scale(0.2)">
<!-- rail -->
<path class="w hv" d="M185,495 L300,418 L600,240 L880,85 L902,92 L922,170 L902,200 L730,295 L680,340 L640,420 L560,520 L490,600 L470,640 L440,630 L400,615 L300,555 L210,562 Z"/>
<path d="M200,505 L870,105 L895,160 M895,160 L730,270 L400,470 L215,560"/>
<path class="hv" d="M672,340 L604,436 L508,540 C495,560 470,580 444,580 L316,556 M652,348 L492,532 C482,545 470,555 460,556 L308,540 M620,372 L476,524 C468,534 460,540 452,540 L348,524"/>
<path d="M345,520 L430,495 L465,520 L420,560"/>
<!-- features along rail -->
<path class="hv" d="M290,415 L365,388 L378,410 L305,440 Z M275,440 L310,455"/>
<path class="w hv" d="M400,385 C405,368 440,362 452,380 L455,402 C445,418 415,420 405,408 Z"/>
<path d="M415,385 L440,380 L448,400"/>
<path class="hv" d="M495,345 L545,322 L555,345 L505,370 Z M478,390 L560,355 M510,352 L540,340"/>
<path class="w hv" d="M555,295 C560,278 592,275 603,290 L606,312 C596,328 568,330 558,318 Z"/>
<path d="M568,295 L592,290 L600,310"/>
<path class="w hv" d="M705,212 C710,195 742,192 753,207 L756,229 C746,245 718,247 708,235 Z"/>
<path d="M718,212 L742,207 L750,227"/>
<path class="hv" d="M760,170 L840,130 L850,140 L780,178 Z M785,215 L860,175 L868,188 L800,222 Z"/>
<path class="hv" d="M232,482 C240,470 265,465 272,478 L268,500 C258,512 238,512 232,502 Z"/>
<!-- left block -->
<path class="w hv" d="M100,480 L140,470 L162,495 L162,565 L105,550 Z"/>
<path d="M140,470 L142,540 L162,565 M105,550 L142,540"/>
<ellipse cx="180" cy="525" rx="10" ry="13" class="hv"/>
<!-- lower tab -->
<path class="w hv" d="M400,615 C395,640 395,670 410,688 C425,695 445,685 450,665 L470,640"/>
<ellipse cx="430" cy="655" rx="10" ry="14" class="hv"/>
<path d="M190,535 L390,625 M440,660 L512,700"/>
<path class="dd" d="M270,410 L470,520"/>
<!-- lines at left (swingarm end / guard top) -->
<path d="M0,580 L100,545 M0,660 L200,580 M0,740 L340,625"/>
</g>
<g class="g" transform="translate(180,400) scale(0.25)">
<path class="dd" d="M68,240 L68,470 L700,835 L700,950"/>
<path d="M700,950 L640,915"/>
<path d="M300,240 L300,260 L340,285"/>
<path class="dd" d="M578,330 L578,660 L1000,900"/>

<path class="dd" d="M770,200 L770,700 L1000,820"/>
<!-- swingarm arch bottom -->
<path class="hv" d="M720,0 L640,110 L570,192"/><path d="M731,0 L652,114 L588,198"/><path style="stroke-width:2" d="M739,0 L662,118 L605,205"/>
<path class="hv" d="M640,165 C720,130 820,85 890,60 L1000,25"/>
<path class="hv" d="M625,195 L760,120 L900,70"/>
<path class="hv" d="M770,170 L885,100 L1000,70"/>
<path class="hv" d="M760,250 L880,210 L1000,160"/>

<path d="M930,180 L1000,190"/>

<!-- right pivot cylinder -->


<!-- bearing -->
<g transform="translate(410,150) rotate(20)">
<ellipse cx="0" cy="0" rx="52" ry="64" class="w hv"/>
<ellipse cx="6" cy="2" rx="42" ry="54" class="hv"/>
<ellipse cx="8" cy="4" rx="32" ry="44" class="hv"/>
<ellipse cx="-2" cy="8" rx="24" ry="36" class="hv"/>
<ellipse cx="-6" cy="2" rx="14" ry="24"/>
</g>
<g transform="translate(497,195) rotate(20)"><ellipse class="w hv" cx="0" cy="0" rx="33" ry="40"/><ellipse class="w hv" cx="0" cy="0" rx="21.8" ry="26.4"/></g>
<g transform="translate(375,305) rotate(20)"><ellipse class="w hv" cx="0" cy="0" rx="32" ry="40"/><ellipse class="w hv" cx="0" cy="0" rx="19.8" ry="24.8"/></g>
<g transform="translate(482,372) rotate(200)">
<g transform="translate(0,0) rotate(0)"><path class="w hv" d="M0,-50 L28,-50 C78.5,-50 78.5,50 28,50 L0,50"/><ellipse class="w hv" cx="0" cy="0" rx="38" ry="50"/><ellipse class="w hv" cx="0" cy="0" rx="13.7" ry="18"/></g>
</g>
<!-- needle bearings -->
<g transform="translate(858,392) rotate(25)"><path class="w hv" d="M0,-36 L-38,-36 C-69.9,-36 -69.9,36 -38,36 L0,36"/><ellipse class="w hv" cx="0" cy="0" rx="24" ry="36"/><ellipse class="w hv" cx="0" cy="0" rx="17.3" ry="27"/><path class="hv" d="M-10.1,-21.6 L10.1,-21.6 M-14.7,-13 L14.7,-13 M-16.6,-4.3 L16.6,-4.3 M-16.6,4.3 L16.6,4.3 M-14.7,13 L14.7,13 M-10.1,21.6 L10.1,21.6 "/></g>
<g transform="translate(938,440) rotate(25)"><path class="w hv" d="M0,-36 L-38,-36 C-69.9,-36 -69.9,36 -38,36 L0,36"/><ellipse class="w hv" cx="0" cy="0" rx="24" ry="36"/><ellipse class="w hv" cx="0" cy="0" rx="17.3" ry="27"/><path class="hv" d="M-10.1,-21.6 L10.1,-21.6 M-14.7,-13 L14.7,-13 M-16.6,-4.3 L16.6,-4.3 M-16.6,4.3 L16.6,4.3 M-14.7,13 L14.7,13 M-10.1,21.6 L10.1,21.6 "/></g>
<path d="M960,450 L1000,468"/>
<!-- bottom row -->
<g transform="translate(158,643) rotate(22)"><path class="w hv" d="M-4,-31.2 L-34,-24.8 L-42,0 L-34,24.8 L-4,31.2 Z"/><path d="M-38,-12 L-4,-14.4 M-38,12 L-4,14.4"/><ellipse class="w hv" cx="0" cy="0" rx="28.8" ry="40"/><ellipse class="hv" cx="2" cy="0" rx="13.6" ry="18.4"/><ellipse cx="3.2" cy="0" rx="6.4" ry="9.6"/></g>
<g transform="translate(245,695) rotate(20)"><path class="w hv" d="M0,-56 L6,-56 C67.2,-56 67.2,56 6,56 L0,56"/><ellipse class="w hv" cx="0" cy="0" rx="46" ry="56"/><ellipse class="w hv" cx="0" cy="0" rx="16.6" ry="20.2"/></g>
<g transform="translate(352,758) rotate(20)">
<ellipse cx="0" cy="0" rx="44" ry="56" class="w" style="stroke-width:2.4"/>
<ellipse cx="4" cy="3" rx="33" ry="44" class="hv"/>
<path d="M-40,20 C-30,50 0,62 20,50"/>
</g>
<g transform="translate(535,862) rotate(208)">
<g transform="translate(0,0) rotate(0)"><path class="w hv" d="M0,-26 L105,-26 C128.9,-26 128.9,26 105,26 L0,26"/><ellipse class="w hv" cx="0" cy="0" rx="18" ry="26"/><ellipse class="w hv" cx="0" cy="0" rx="10.8" ry="15.6"/></g>
</g>
<g transform="translate(625,902) rotate(205)">
<g transform="translate(0,0) rotate(0)"><path class="w hv" d="M0,-32 L40,-32 C69.3,-32 69.3,32 40,32 L0,32"/><ellipse class="w hv" cx="0" cy="0" rx="22" ry="32"/><ellipse class="w hv" cx="0" cy="0" rx="11" ry="16"/></g>
</g>
</g>
<g class="g" transform="translate(310,410) scale(0.1)">
<path class="w" stroke="none" d="M35,520 L45,470 L90,400 L150,410 L250,440 C300,400 350,350 400,330 C440,312 520,305 600,330 L600,555 L580,560 L440,570 L380,680 L300,700 L200,690 L100,640 L40,590 Z" />
<path class="hv" d="M600,330 C520,305 440,312 400,330 C350,350 300,400 250,440 L150,410 L90,400 L45,470 L35,520 L40,590"/>
<path class="w" stroke="none" d="M250,440 L400,330 L600,330 L580,560 L440,570 Z"/>
<path class="hv" d="M75,465 L100,410 L215,455 L185,510 Z"/>
<path style="stroke-width:2.2" d="M40,590 L100,640 L200,690"/>
<path d="M430,340 C455,400 455,460 430,520 M500,360 C522,420 522,480 510,530 M560,330 C590,400 592,480 580,552"/>
<path class="hv" d="M440,570 L580,560 L650,530"/>
<ellipse cx="300" cy="580" rx="112" ry="128" transform="rotate(20 300 580)" class="w" style="stroke-width:2.4"/>
<ellipse cx="312" cy="584" rx="98" ry="114" transform="rotate(20 312 584)" class="w" style="stroke-width:2"/>
<ellipse cx="340" cy="600" rx="75" ry="98" transform="rotate(20 340 600)" class="w" style="stroke-width:2"/>
<path d="M350,600 L690,800"/>
</g>
<g class="g" transform="translate(220,680) scale(0.25)">
<!-- leader lines -->
<path class="dd" d="M410,350 L730,170 L752,182"/>
<path d="M150,265 L232,312 M240,245 L315,295 M270,340 L372,392 M395,345 L410,350 M530,240 L612,288 M500,575 L540,600 M640,545 L672,566 M790,640 L885,690 M720,705 L820,760 M910,462 L935,475 M985,305 L1000,312"/>
<!-- top row -->
<g transform="translate(355,148) rotate(205)"><ellipse class="w hv" cx="9.6" cy="0" rx="19.2" ry="32"/><path class="w hv" d="M6.4,-25.6 L-9.6,-25.6 C-27.2,-25.6 -27.2,25.6 -9.6,25.6 L6.4,25.6 C20.8,25.6 20.8,-25.6 6.4,-25.6 Z"/><ellipse class="w hv" cx="-9.6" cy="0" rx="16" ry="25.6"/><ellipse class="m" cx="-9.6" cy="0" rx="5.8" ry="9.6"/><path d="M-3.2,-12.8 L17.6,-12.8 M-3.2,12.8 L17.6,12.8"/></g>
<g transform="translate(425,182) rotate(20)"><ellipse class="w hv" cx="0" cy="0" rx="25" ry="33"/><ellipse class="w hv" cx="0" cy="0" rx="15" ry="19.8"/></g>
<g transform="translate(505,228) rotate(20)"><path class="w hv" d="M0,-43 L5,-43 C51.6,-43 51.6,43 5,43 L0,43"/><ellipse class="w hv" cx="0" cy="0" rx="35" ry="43"/><ellipse class="hv" cx="0" cy="0" rx="24.5" ry="31"/><ellipse class="hv" cx="2.8" cy="0" rx="16.8" ry="22.4"/></g>
<g transform="translate(785,203) rotate(20)"><path class="w hv" d="M0,-32 L-16,-32 C-47.9,-32 -47.9,32 -16,32 L0,32"/><ellipse class="w hv" cx="0" cy="0" rx="24" ry="32"/><ellipse class="w hv" cx="0" cy="0" rx="17.3" ry="24"/><path class="hv" d="M-10.1,-19.2 L10.1,-19.2 M-14.7,-11.5 L14.7,-11.5 M-16.6,-3.8 L16.6,-3.8 M-16.6,3.8 L16.6,3.8 M-14.7,11.5 L14.7,11.5 M-10.1,19.2 L10.1,19.2 "/></g>
<g transform="translate(890,262) rotate(207)">
<g transform="translate(0,0) rotate(0)"><path class="w hv" d="M0,-26 L62,-26 C85.9,-26 85.9,26 62,26 L0,26"/><ellipse class="w hv" cx="0" cy="0" rx="18" ry="26"/><ellipse class="w hv" cx="0" cy="0" rx="10.8" ry="15.6"/></g>
</g>
<g transform="translate(975,305) rotate(20)"><path class="w hv" d="M0,-38 L-30,-38 C-69.9,-38 -69.9,38 -30,38 L0,38"/><ellipse class="w hv" cx="0" cy="0" rx="30" ry="38"/><ellipse class="w hv" cx="0" cy="0" rx="21.6" ry="28.5"/><path class="hv" d="M-12.6,-22.8 L12.6,-22.8 M-18.4,-13.7 L18.4,-13.7 M-20.7,-4.6 L20.7,-4.6 M-20.7,4.6 L20.7,4.6 M-18.4,13.7 L18.4,13.7 M-12.6,22.8 L12.6,22.8 "/></g>
<!-- second row -->
<g transform="translate(132,260) rotate(22)"><path class="w hv" d="M-3.2,-25 L-27.2,-19.8 L-33.6,0 L-27.2,19.8 L-3.2,25 Z"/><path d="M-30.4,-9.6 L-3.2,-11.5 M-30.4,9.6 L-3.2,11.5"/><ellipse class="w hv" cx="0" cy="0" rx="23" ry="32"/><ellipse class="hv" cx="1.6" cy="0" rx="10.9" ry="14.7"/><ellipse cx="2.6" cy="0" rx="5.1" ry="7.7"/></g>
<g transform="translate(219,240) rotate(22)"><path class="w hv" d="M-3.2,-25 L-27.2,-19.8 L-33.6,0 L-27.2,19.8 L-3.2,25 Z"/><path d="M-30.4,-9.6 L-3.2,-11.5 M-30.4,9.6 L-3.2,11.5"/><ellipse class="w hv" cx="0" cy="0" rx="23" ry="32"/><ellipse class="hv" cx="1.6" cy="0" rx="10.9" ry="14.7"/><ellipse cx="2.6" cy="0" rx="5.1" ry="7.7"/></g>
<path class="w hv" d="M232,322 C240,300 270,295 290,308 L320,315 L365,302 C390,298 405,315 402,338 C398,358 375,365 355,355 L310,350 L270,360 C245,365 225,345 232,322 Z"/>
<ellipse cx="257" cy="330" rx="14" ry="18" class="hv"/>
<ellipse cx="385" cy="333" rx="11" ry="15" class="hv"/>
<path d="M290,318 L360,318"/>
<g transform="translate(408,415) rotate(20)"><path class="w hv" d="M0,-43 L5,-43 C51.6,-43 51.6,43 5,43 L0,43"/><ellipse class="w hv" cx="0" cy="0" rx="35" ry="43"/><ellipse class="hv" cx="0" cy="0" rx="24.5" ry="31"/><ellipse class="hv" cx="2.8" cy="0" rx="16.8" ry="22.4"/></g>
<g transform="translate(695,340) rotate(207)">
<g transform="translate(0,0) rotate(0)"><path class="w hv" d="M0,-26 L62,-26 C85.9,-26 85.9,26 62,26 L0,26"/><ellipse class="w hv" cx="0" cy="0" rx="18" ry="26"/><ellipse class="w hv" cx="0" cy="0" rx="10.8" ry="15.6"/></g>
</g>
<g transform="translate(775,385) rotate(20)"><path class="w hv" d="M0,-40 L-30,-40 C-69.9,-40 -69.9,40 -30,40 L0,40"/><ellipse class="w hv" cx="0" cy="0" rx="30" ry="40"/><ellipse class="w hv" cx="0" cy="0" rx="21.6" ry="30"/><path class="hv" d="M-12.6,-24 L12.6,-24 M-18.4,-14.4 L18.4,-14.4 M-20.7,-4.8 L20.7,-4.8 M-20.7,4.8 L20.7,4.8 M-18.4,14.4 L18.4,14.4 M-12.6,24 L12.6,24 "/></g>
<!-- third row -->
<g transform="translate(229,427) rotate(22)"><path class="w hv" d="M-3.2,-25 L-27.2,-19.8 L-33.6,0 L-27.2,19.8 L-3.2,25 Z"/><path d="M-30.4,-9.6 L-3.2,-11.5 M-30.4,9.6 L-3.2,11.5"/><ellipse class="w hv" cx="0" cy="0" rx="23" ry="32"/><ellipse class="hv" cx="1.6" cy="0" rx="10.9" ry="14.7"/><ellipse cx="2.6" cy="0" rx="5.1" ry="7.7"/></g>
<g transform="translate(322,475) rotate(207)">
<g transform="translate(0,0) rotate(0)"><path class="w hv" d="M0,-26 L50,-26 C73.9,-26 73.9,26 50,26 L0,26"/><ellipse class="w hv" cx="0" cy="0" rx="18" ry="26"/><ellipse class="w hv" cx="0" cy="0" rx="10.8" ry="15.6"/></g>
</g>
<g transform="translate(388,513) rotate(20)"><path class="w hv" d="M0,-42 L5,-42 C51.6,-42 51.6,42 5,42 L0,42"/><ellipse class="w hv" cx="0" cy="0" rx="35" ry="42"/><ellipse class="hv" cx="0" cy="0" rx="24.5" ry="30.2"/><ellipse class="hv" cx="2.8" cy="0" rx="16.8" ry="21.8"/></g>
<g transform="translate(530,485) rotate(207)">
<g transform="translate(0,0) rotate(0)"><path class="w hv" d="M0,-26 L62,-26 C85.9,-26 85.9,26 62,26 L0,26"/><ellipse class="w hv" cx="0" cy="0" rx="18" ry="26"/><ellipse class="w hv" cx="0" cy="0" rx="10.8" ry="15.6"/></g>
</g>
<g transform="translate(480,565) rotate(20)"><path class="w hv" d="M0,-40 L-30,-40 C-69.9,-40 -69.9,40 -30,40 L0,40"/><ellipse class="w hv" cx="0" cy="0" rx="30" ry="40"/><ellipse class="w hv" cx="0" cy="0" rx="21.6" ry="30"/><path class="hv" d="M-12.6,-24 L12.6,-24 M-18.4,-14.4 L18.4,-14.4 M-20.7,-4.8 L20.7,-4.8 M-20.7,4.8 L20.7,4.8 M-18.4,14.4 L18.4,14.4 M-12.6,24 L12.6,24 "/></g>
<g transform="translate(615,530) rotate(20)"><path class="w hv" d="M0,-40 L-30,-40 C-69.9,-40 -69.9,40 -30,40 L0,40"/><ellipse class="w hv" cx="0" cy="0" rx="30" ry="40"/><ellipse class="w hv" cx="0" cy="0" rx="21.6" ry="30"/><path class="hv" d="M-12.6,-24 L12.6,-24 M-18.4,-14.4 L18.4,-14.4 M-20.7,-4.8 L20.7,-4.8 M-20.7,4.8 L20.7,4.8 M-18.4,14.4 L18.4,14.4 M-12.6,24 L12.6,24 "/></g>
<!-- big link arm -->
<path class="w hv" d="M545,640 C545,610 570,580 600,580 L640,595 C680,580 730,550 760,520 C785,490 800,440 820,402 C830,385 860,380 885,398 C915,410 925,440 918,475 C905,520 870,570 820,630 C800,650 775,660 765,672 C758,700 745,730 720,742 C700,750 680,742 660,730 L575,680 C555,668 545,655 545,640 Z"/>
<path class="hv" d="M640,595 C615,610 605,640 610,670 L660,730 M610,600 C600,620 598,650 605,680"/>
<path d="M650,615 C700,600 760,560 790,520 C810,490 825,440 845,405"/>
<ellipse cx="890" cy="455" rx="24" ry="32" transform="rotate(20 890 455)" class="hv"/>
<path d="M870,440 C860,455 862,480 878,490"/>
<ellipse cx="708" cy="695" rx="24" ry="36" transform="rotate(20 708 695)" class="hv"/>
<path d="M690,680 C680,700 685,725 700,732"/>
<path class="hv" d="M820,600 C815,580 840,540 870,510 C885,500 890,510 885,525 C870,560 850,590 835,612 C828,618 822,612 820,600 Z"/>
<path class="hv" d="M750,620 C755,600 785,598 795,615 C800,635 785,655 765,652 M680,628 L720,640 L740,618 M720,640 L745,665 M700,625 L735,650"/>
<!-- right seals -->
<g transform="translate(965,492) rotate(20)"><path class="w hv" d="M0,-42 L5,-42 C51.6,-42 51.6,42 5,42 L0,42"/><ellipse class="w hv" cx="0" cy="0" rx="35" ry="42"/><ellipse class="hv" cx="0" cy="0" rx="24.5" ry="30.2"/><ellipse class="hv" cx="2.8" cy="0" rx="16.8" ry="21.8"/></g>
<g transform="translate(918,708) rotate(20)"><path class="w hv" d="M0,-42 L5,-42 C51.6,-42 51.6,42 5,42 L0,42"/><ellipse class="w hv" cx="0" cy="0" rx="35" ry="42"/><ellipse class="hv" cx="0" cy="0" rx="24.5" ry="30.2"/><ellipse class="hv" cx="2.8" cy="0" rx="16.8" ry="21.8"/></g>
<g transform="translate(868,790) rotate(20)"><path class="w hv" d="M0,-38 L-30,-38 C-69.9,-38 -69.9,38 -30,38 L0,38"/><ellipse class="w hv" cx="0" cy="0" rx="30" ry="38"/><ellipse class="w hv" cx="0" cy="0" rx="21.6" ry="28.5"/><path class="hv" d="M-12.6,-22.8 L12.6,-22.8 M-18.4,-13.7 L18.4,-13.7 M-20.7,-4.6 L20.7,-4.6 M-20.7,4.6 L20.7,4.6 M-18.4,13.7 L18.4,13.7 M-12.6,22.8 L12.6,22.8 "/></g>
</g>
<g class="g" transform="translate(420,740) scale(0.25)">
<path d="M250,0 L250,110 L195,85"/>
<path class="dd" d="M362,0 L362,180 L395,200"/>
<path d="M450,232 L520,270 L395,345"/>
<path class="dd" d="M325,385 L205,455 L270,490"/>
<path class="dd" d="M325,520 L365,548 L680,370 L715,390"/>
<path d="M0,390 L80,440 M195,525 L290,570 M140,478 L165,492"/>
<g transform="translate(440,225) rotate(205)">
<g transform="translate(0,0) rotate(0)"><path class="w hv" d="M0,-30 L28,-30 C54.6,-30 54.6,30 28,30 L0,30"/><ellipse class="w hv" cx="0" cy="0" rx="20" ry="30"/><ellipse class="w hv" cx="0" cy="0" rx="11" ry="16.5"/></g>
</g>
<g transform="translate(165,255) rotate(20)"><path class="w hv" d="M0,-40 L5,-40 C51.6,-40 51.6,40 5,40 L0,40"/><ellipse class="w hv" cx="0" cy="0" rx="35" ry="40"/><ellipse class="hv" cx="0" cy="0" rx="24.5" ry="28.8"/><ellipse class="hv" cx="2.8" cy="0" rx="16.8" ry="20.8"/></g>
<g transform="translate(230,292) rotate(20)"><ellipse class="w hv" cx="0" cy="0" rx="25" ry="33"/><ellipse class="w hv" cx="0" cy="0" rx="15" ry="19.8"/></g>
<!-- shoulder bolt -->
<g transform="translate(428,405) rotate(208)">
<path class="w hv" d="M20,-22 L115,-22 L115,-15 L165,-15 C175,-15 175,15 165,15 L115,15 L115,22 L20,22 Z"/>
<path class="hv" d="M125,-15 C133,-6 133,6 125,15 M137,-15 C145,-6 145,6 137,15 M149,-15 C157,-6 157,6 149,15 M160,-15 C168,-6 168,6 160,15"/>
<path class="w hv" d="M20,-34 L-10,-34 C-30,-30 -30,30 -10,34 L20,34 C35,30 35,-30 20,-34 Z"/>
<path d="M-18,-14 L28,-14 M-18,14 L28,14 M-10,-34 C2,-15 2,15 -10,34"/>
</g>
<g transform="translate(118,468) rotate(20)"><path class="w hv" d="M0,-40 L5,-40 C51.6,-40 51.6,40 5,40 L0,40"/><ellipse class="w hv" cx="0" cy="0" rx="35" ry="40"/><ellipse class="hv" cx="0" cy="0" rx="24.5" ry="28.8"/><ellipse class="hv" cx="2.8" cy="0" rx="16.8" ry="20.8"/></g>
<!-- link plate 2 -->
<path class="w hv" d="M160,505 C165,485 195,478 215,490 L250,500 L295,486 C320,482 335,500 330,522 C325,545 300,552 280,545 L235,535 L195,545 C170,548 155,528 160,505 Z"/>
<ellipse cx="185" cy="515" rx="13" ry="17" class="hv"/>
<ellipse cx="312" cy="518" rx="11" ry="15" class="hv"/>
<path d="M215,505 L290,505"/>
<g transform="translate(888,497) rotate(210)"><path d="M15,-12 L172,-12 C179.2,-12 179.2,12 172,12 L15,12"/><path class="hv" d="M131.5,-12 C137.5,-6 137.5,6 131.5,12 M140.5,-12 C146.5,-6 146.5,6 140.5,12 M149.5,-12 C155.5,-6 155.5,6 149.5,12 M158.5,-12 C164.5,-6 164.5,6 158.5,12 M167.5,-12 C173.5,-6 173.5,6 167.5,12 "/><ellipse class="w hv" cx="10.5" cy="0" rx="16.5" ry="30"/><path class="w hv" d="M7.5,-24 L-10.5,-24 C-27,-24 -27,24 -10.5,24 L7.5,24 C21,24 21,-24 7.5,-24 Z"/><path d="M-16.5,-10.8 L16.5,-10.8 M-16.5,10.8 L16.5,10.8 M-10.5,-24 C1.5,-14.4 1.5,14.4 -10.5,24"/></g>
<g transform="translate(68,550) rotate(20)"><path class="w hv" d="M0,-40 L-32,-40 C-74.6,-40 -74.6,40 -32,40 L0,40"/><ellipse class="w hv" cx="0" cy="0" rx="32" ry="40"/><ellipse class="w hv" cx="0" cy="0" rx="23" ry="30"/><path class="hv" d="M-13.4,-24 L13.4,-24 M-19.7,-14.4 L19.7,-14.4 M-22.1,-4.8 L22.1,-4.8 M-22.1,4.8 L22.1,4.8 M-19.7,14.4 L19.7,14.4 M-13.4,24 L13.4,24 "/></g>
<g transform="translate(262,660) rotate(207)">
<g transform="translate(0,0) rotate(0)"><path class="w hv" d="M0,-26 L155,-26 C177.6,-26 177.6,26 155,26 L0,26"/><ellipse class="w hv" cx="0" cy="0" rx="17" ry="26"/><ellipse class="w hv" cx="0" cy="0" rx="10.2" ry="15.6"/></g>
</g>
<g transform="translate(448,665) rotate(210)"><path d="M15,-12 L165,-12 C172.2,-12 172.2,12 165,12 L15,12"/><path class="hv" d="M119.5,-12 C125.5,-6 125.5,6 119.5,12 M128.5,-12 C134.5,-6 134.5,6 128.5,12 M137.5,-12 C143.5,-6 143.5,6 137.5,12 M146.5,-12 C152.5,-6 152.5,6 146.5,12 M155.5,-12 C161.5,-6 161.5,6 155.5,12 "/><ellipse class="w hv" cx="10.5" cy="0" rx="16.5" ry="30"/><path class="w hv" d="M7.5,-24 L-10.5,-24 C-27,-24 -27,24 -10.5,24 L7.5,24 C21,24 21,-24 7.5,-24 Z"/><path d="M-16.5,-10.8 L16.5,-10.8 M-16.5,10.8 L16.5,10.8 M-10.5,-24 C1.5,-14.4 1.5,14.4 -10.5,24"/></g>
<g transform="translate(315,692) rotate(20)"><path class="w hv" d="M0,-40 L5,-40 C51.6,-40 51.6,40 5,40 L0,40"/><ellipse class="w hv" cx="0" cy="0" rx="35" ry="40"/><ellipse class="hv" cx="0" cy="0" rx="24.5" ry="28.8"/><ellipse class="hv" cx="2.8" cy="0" rx="16.8" ry="20.8"/></g>
<g transform="translate(650,888) rotate(210)"><path d="M15,-11 L322,-11 C328.6,-11 328.6,11 322,11 L15,11"/><path class="hv" d="M281.1,-11 C286.6,-5.5 286.6,5.5 281.1,11 M289.4,-11 C294.9,-5.5 294.9,5.5 289.4,11 M297.6,-11 C303.1,-5.5 303.1,5.5 297.6,11 M305.9,-11 C311.4,-5.5 311.4,5.5 305.9,11 M314.1,-11 C319.6,-5.5 319.6,5.5 314.1,11 "/><ellipse class="w hv" cx="10.5" cy="0" rx="16.5" ry="30"/><path class="w hv" d="M7.5,-24 L-10.5,-24 C-27,-24 -27,24 -10.5,24 L7.5,24 C21,24 21,-24 7.5,-24 Z"/><path d="M-16.5,-10.8 L16.5,-10.8 M-16.5,10.8 L16.5,10.8 M-10.5,-24 C1.5,-14.4 1.5,14.4 -10.5,24"/></g>
</g>
<g class="g" transform="translate(260,210) scale(0.125)">
<g transform="translate(275,250) rotate(38)">
<path class="w hv" d="M40,-28 L110,-28 C122,-28 122,28 110,28 L40,28 Z"/>
<path class="w hv" d="M30,-40 L60,-40 C72,-40 72,40 60,40 L30,40 Z"/>
<ellipse cx="0" cy="0" rx="58" ry="66" class="w" style="stroke-width:2.2"/>
<path style="stroke-width:2.2" d="M-30,-55 C-10,-20 -10,20 -30,55 M-55,-10 L40,-20 M-50,25 L45,15 M10,-62 C35,-30 35,30 10,62 M-10,-25 L20,-28 L22,10 L-8,14 Z"/>
</g>
<ellipse cx="390" cy="378" rx="50" ry="17" transform="rotate(-38 390 378)" style="stroke-width:2.6"/>
<path d="M415,405 L582,588"/>
<path class="w hv" d="M155,780 L360,552 L382,545 L470,490 L477,500 L400,572 L180,790 Z"/>
<path d="M340,670 L425,757"/>
</g>
<g class="g" transform="translate(500,200) scale(0.125)">
<path class="dd" d="M245,455 L40,535 L235,650 L90,710"/>
<path class="dd" d="M0,410 L340,690 L700,1000"/>
<path class="dd" d="M0,880 L320,690 L640,504"/>
<g transform="translate(740,262) rotate(158)"><path d="M31,-22 L311,-22 C324.2,-22 324.2,22 311,22 L31,22"/><path class="hv" d="M109.2,-22 C120.2,-11 120.2,11 109.2,22 M125.8,-22 C136.8,-11 136.8,11 125.8,22 M142.2,-22 C153.2,-11 153.2,11 142.2,22 M158.8,-22 C169.8,-11 169.8,11 158.8,22 M175.2,-22 C186.2,-11 186.2,11 175.2,22 M191.8,-22 C202.8,-11 202.8,11 191.8,22 M208.2,-22 C219.2,-11 219.2,11 208.2,22 M224.8,-22 C235.8,-11 235.8,11 224.8,22 M241.2,-22 C252.2,-11 252.2,11 241.2,22 M257.8,-22 C268.8,-11 268.8,11 257.8,22 M274.2,-22 C285.2,-11 285.2,11 274.2,22 M290.8,-22 C301.8,-11 301.8,11 290.8,22 "/><ellipse class="w hv" cx="21.7" cy="0" rx="34.1" ry="62"/><path class="w hv" d="M15.5,-49.6 L-21.7,-49.6 C-55.8,-49.6 -55.8,49.6 -21.7,49.6 L15.5,49.6 C43.4,49.6 43.4,-49.6 15.5,-49.6 Z"/><path d="M-34.1,-22.3 L34.1,-22.3 M-34.1,22.3 L34.1,22.3 M-21.7,-49.6 C3.1,-29.8 3.1,29.8 -21.7,49.6"/></g>
<g transform="translate(315,435) rotate(-20)">
<ellipse cx="-25" cy="0" rx="42" ry="62" class="w hv"/>
<path class="w hv" d="M-10,-48 L35,-48 C60,-40 60,40 35,48 L-10,48 C10,20 10,-20 -10,-48 Z"/>
<path d="M0,-25 L50,-25 M0,25 L50,25 M20,-48 C35,-20 35,20 20,48"/>
<ellipse cx="-28" cy="2" rx="14" ry="22" class="hv"/>
</g>
<g transform="translate(555,760) rotate(28)">
<path d="M20,-20 L140,-20 C152,-20 152,20 140,20 L20,20"/>
<path class="hv" d="M50,-20 C60,-8 60,8 50,20 M68,-20 C78,-8 78,8 68,20 M86,-20 C96,-8 96,8 86,20 M104,-20 C114,-8 114,8 104,20 M122,-20 C132,-8 132,8 122,20"/>
<ellipse cx="0" cy="0" rx="38" ry="54" class="w hv"/>
<path class="w hv" d="M-35,-30 C-50,-10 -50,10 -35,30 M-20,-45 L-38,-30 M-20,45 L-38,30"/>
<ellipse cx="8" cy="0" rx="22" ry="34" class="w hv"/>
</g>
<path class="dd" d="M690,835 L770,880"/>
</g>
<g class="g" transform="translate(300,520) scale(0.25)">
<path class="dd" d="M520,420 L735,540 L735,880"/>
<path class="dd" d="M520,340 L840,540 L840,880"/>
<path d="M820,-60 L960,20"/>
<path d="M620,60 L690,100"/>
</g>
<g class="g" transform="translate(330,380) scale(0.16)">
<path class="hv" d="M625,235 C700,218 800,200 940,178"/>
<path class="hv" d="M440,320 C500,300 600,280 750,258 L940,222"/>
<path class="hv" d="M510,405 L700,375 L940,318"/>
<path class="hv" d="M520,430 L700,400 L940,342"/>
<path d="M620,140 C680,150 760,140 820,118 L940,85 M640,115 L740,112 M930,100 L1000,90"/>
<path class="ds" d="M780,190 L910,280 L890,292 M870,130 L780,190"/>
<path d="M730,90 L1000,240"/>
<path class="dd" d="M400,380 L680,550 L870,655"/>
<ellipse cx="385" cy="372" rx="20" ry="28" transform="rotate(20 385 372)" style="stroke-width:2.4"/>
<path class="ds" d="M265,110 L265,500"/>
</g>
<g class="g" transform="translate(420,470) scale(0.1)">
<!-- hook (C clip) -->
<path d="M250,440 C300,445 330,470 330,510 C330,570 300,615 250,650 C200,685 140,700 100,700 L55,662 L48,680 L90,730 L150,762 L230,792 C270,792 310,770 350,740 C390,705 425,670 432,640 L432,560 L420,480 L400,440 Z" fill="#c4c4c4" stroke="#111" stroke-width="1.7"/>
<path d="M300,520 C290,580 250,625 180,660 L130,690 L160,720 C230,700 290,660 320,620 C345,580 350,540 345,500 Z" fill="#3a3a3a" stroke="#111"/>
<path d="M350,500 C390,520 410,570 400,640 L330,700 L250,745 L180,735 C250,710 310,670 335,620 C350,580 355,540 350,500 Z" fill="#cfcfcf" stroke="#111" stroke-width="1.4"/>
<path d="M60,670 L130,700 L220,745 L225,770" stroke-width="1.1"/>
<!-- light region -->
<path d="M440,500 C480,470 540,460 590,482 L560,560 L520,612 L440,650 L432,560 Z" fill="#d4d4d4" stroke="#111" stroke-width="1.2"/>
<!-- strut -->
<path d="M690,262 L900,165 L880,232 L820,350 L760,452 L710,542 L560,602 L520,622 L600,482 L650,382 Z" fill="#6e6e6e" stroke="#111" stroke-width="1.4"/>
<path d="M700,280 L610,470 L530,615" stroke="#111" stroke-width="2.2"/>
<circle cx="780" cy="302" r="52" fill="#c8c8c8" stroke="#111" stroke-width="1.5"/>
<circle cx="782" cy="300" r="30" fill="#1a1a1a" stroke="none"/>
<!-- upper tab -->
<path d="M860,-56 L884,-136 L956,-280 L1004,-360 C1030,-390 1080,-390 1100,-368 L1108,-320 L1076,-280 L1052,-232 L1068,-176 L1000,-120 L900,-40 Z" fill="#5a5a5a" stroke="#111" stroke-width="1.4"/>
<path d="M1030,-350 L1085,-345 L1080,-300 L1040,-280 L1025,-300 L1050,-315 Z" fill="#8a8a8a" stroke="#111" stroke-width="1.1"/>
<path d="M1076,-280 L1172,-240 L1084,-192" class="w" stroke-width="1"/>
<path d="M890,-120 L960,-260 L1000,-340" stroke="#ddd" stroke-width="1"/>
<!-- small tab right -->
<path d="M1220,-16 L1332,-64 L1356,-40 L1260,16 Z" fill="#b0b0b0" stroke="#111" stroke-width="1.1"/>
<!-- top bar -->
<path d="M75,450 L130,400 L300,290 L500,170 L700,70 L860,-10 L1020,-88 L1116,-136 L1228,-152 L1372,-144 L1396,-120 L1340,-88 L1212,-40 L1116,8 L924,120 L720,260 L650,300 L400,440 L330,470 L320,492 L300,522 L240,556 Z" fill="#4e4e4e" stroke="#111" stroke-width="1.7"/>
<path d="M105,455 L140,425 L310,315 L510,195 L720,90 L1030,-62 L1130,-110 L1230,-128" stroke="#111" stroke-width="1.4"/>
<path d="M150,478 L180,452 L340,348 L540,228 L740,125 L1060,-30 L1200,-92 L1370,-125" stroke="#111" stroke-width="1.4"/>
<path d="M960,-120 L1100,-95 M1040,-160 L1170,-130" stroke="#111" stroke-width="1.1"/>
<path d="M250,440 C270,450 300,452 320,470" stroke="#111" stroke-width="1.7"/>
<!-- bushing below -->
<g transform="translate(820,910) rotate(215)">
<g transform="translate(0,0) rotate(0)"><path class="w hv" d="M0,-68 L280,-68 C339.9,-68 339.9,68 280,68 L0,68"/><ellipse class="w hv" cx="0" cy="0" rx="45" ry="68"/><ellipse class="w hv" cx="0" cy="0" rx="24.8" ry="37.4"/></g>
</g>
</g>
</svg>
</body></html>
